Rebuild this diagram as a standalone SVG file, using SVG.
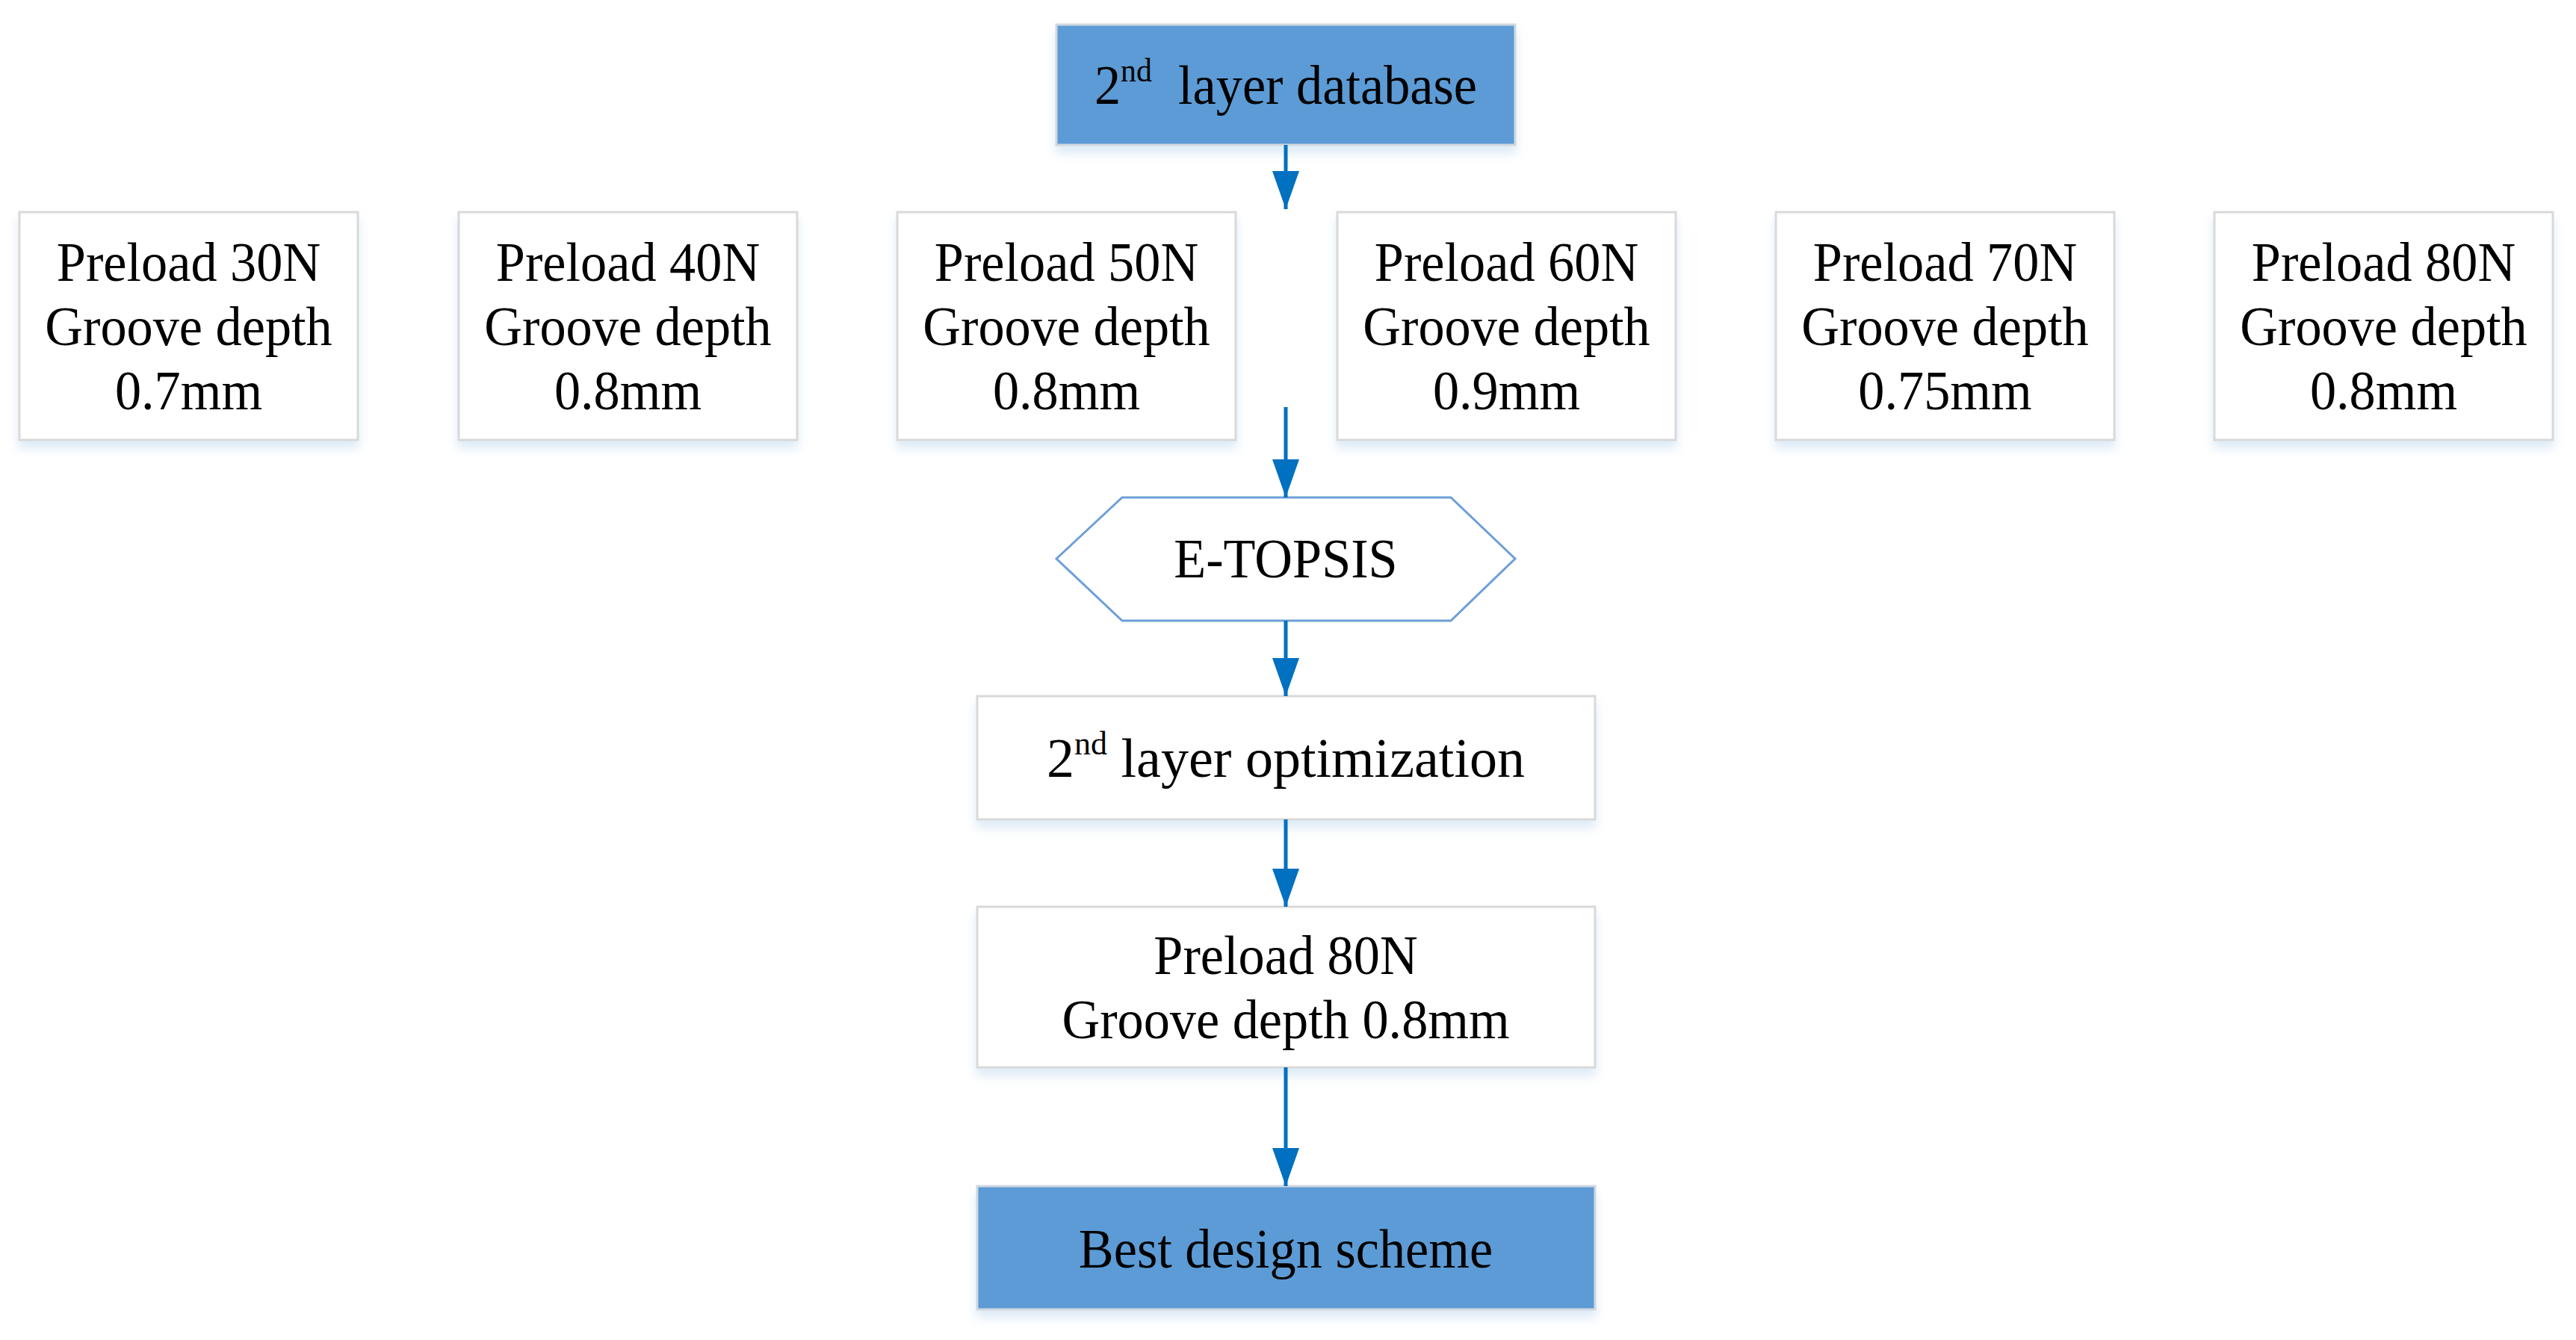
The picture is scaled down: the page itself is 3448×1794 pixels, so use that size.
<svg xmlns="http://www.w3.org/2000/svg" width="3448" height="1794" viewBox="0 0 3448 1794">
<style>
.box{fill:#FFFFFF;stroke:#D9D9D9;stroke-width:3;filter:url(#sh)}
.blue{fill:#5B9BD5;stroke:#D0D8E0;stroke-width:3;filter:url(#sh)}
.hex{fill:#FFFFFF;stroke:#6C9FD8;stroke-width:3}
.t{font-family:"Liberation Serif","Times New Roman",serif;font-size:74px;fill:#000000;text-anchor:middle}
.sup{font-size:44px}
.conn line{stroke:#0070C0;stroke-width:5;marker-end:url(#ah)}
</style>
<defs>
<filter id="sh" x="-10%" y="-10%" width="120%" height="130%">
<feDropShadow dx="0" dy="10" stdDeviation="7" flood-color="#9DC3E6" flood-opacity="0.35"/>
</filter>
<marker id="ah" markerUnits="userSpaceOnUse" markerWidth="51" markerHeight="36" refX="51" refY="18" orient="auto">
<path d="M0,0 L51,18 L0,36 Z" fill="#0070C0"/>
</marker>
</defs>
<rect width="3448" height="1794" fill="#FFFFFF"/>
<g id="n-db">
<rect class="blue" x="1414" y="33" width="614" height="161"/>
<text class="t" transform="translate(1721,139) scale(0.95,1)">2<tspan class="sup" dy="-30">nd</tspan><tspan dy="30" xml:space="preserve">  layer database</tspan></text>
</g>
<g id="n-30">
<rect class="box" x="26" y="284" width="453" height="305"/>
<text class="t" transform="translate(252.5,376) scale(0.95,1)"><tspan x="0">Preload 30N</tspan><tspan x="0" dy="86">Groove depth</tspan><tspan x="0" dy="86">0.7mm</tspan></text>
</g>
<g id="n-40">
<rect class="box" x="614" y="284" width="453" height="305"/>
<text class="t" transform="translate(840.5,376) scale(0.95,1)"><tspan x="0">Preload 40N</tspan><tspan x="0" dy="86">Groove depth</tspan><tspan x="0" dy="86">0.8mm</tspan></text>
</g>
<g id="n-50">
<rect class="box" x="1201" y="284" width="453" height="305"/>
<text class="t" transform="translate(1427.5,376) scale(0.95,1)"><tspan x="0">Preload 50N</tspan><tspan x="0" dy="86">Groove depth</tspan><tspan x="0" dy="86">0.8mm</tspan></text>
</g>
<g id="n-60">
<rect class="box" x="1790" y="284" width="453" height="305"/>
<text class="t" transform="translate(2016.5,376) scale(0.95,1)"><tspan x="0">Preload 60N</tspan><tspan x="0" dy="86">Groove depth</tspan><tspan x="0" dy="86">0.9mm</tspan></text>
</g>
<g id="n-70">
<rect class="box" x="2377" y="284" width="453" height="305"/>
<text class="t" transform="translate(2603.5,376) scale(0.95,1)"><tspan x="0">Preload 70N</tspan><tspan x="0" dy="86">Groove depth</tspan><tspan x="0" dy="86">0.75mm</tspan></text>
</g>
<g id="n-80">
<rect class="box" x="2964" y="284" width="453" height="305"/>
<text class="t" transform="translate(3190.5,376) scale(0.95,1)"><tspan x="0">Preload 80N</tspan><tspan x="0" dy="86">Groove depth</tspan><tspan x="0" dy="86">0.8mm</tspan></text>
</g>
<g id="n-etopsis">
<polygon class="hex" points="1414,748 1502,666 1942,666 2028,748 1942,831 1502,831"/>
<text class="t" transform="translate(1721,773) scale(0.95,1)">E-TOPSIS</text>
</g>
<g id="n-opt">
<rect class="box" x="1308" y="932" width="827" height="165"/>
<text class="t" transform="translate(1721,1040)">2<tspan class="sup" dy="-30">nd</tspan><tspan dy="30"> layer optimization</tspan></text>
</g>
<g id="n-result">
<rect class="box" x="1308" y="1214" width="827" height="215"/>
<text class="t" transform="translate(1721,1304) scale(0.95,1)"><tspan x="0">Preload 80N</tspan><tspan x="0" dy="86">Groove depth 0.8mm</tspan></text>
</g>
<g id="n-best">
<rect class="blue" x="1308" y="1588" width="827" height="165"/>
<text class="t" transform="translate(1721,1697) scale(0.95,1)">Best design scheme</text>
</g>
<g id="connectors" class="conn">
<line x1="1721" y1="194" x2="1721" y2="280"/>
<line x1="1721" y1="545" x2="1721" y2="666"/>
<line x1="1721" y1="831" x2="1721" y2="932"/>
<line x1="1721" y1="1097" x2="1721" y2="1214"/>
<line x1="1721" y1="1429" x2="1721" y2="1588"/>
</g>
</svg>
